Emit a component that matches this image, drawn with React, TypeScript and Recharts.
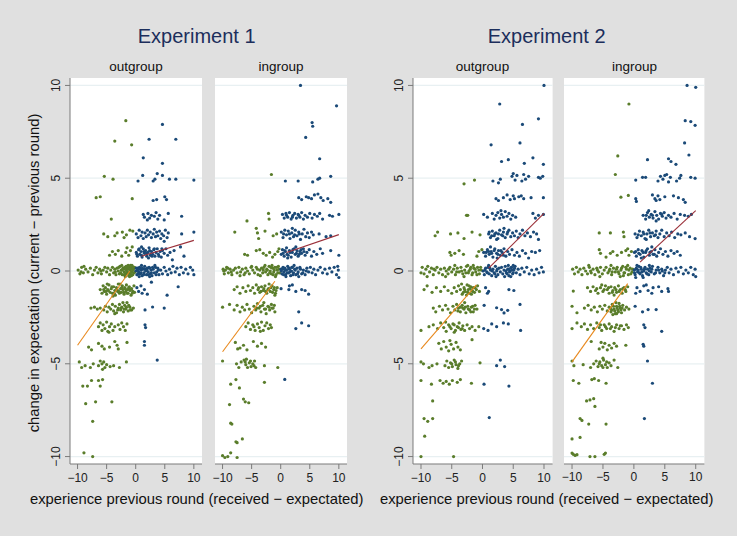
import React from 'react';
import { ScatterChart, Scatter, XAxis, YAxis, CartesianGrid } from 'recharts';

type P = [number, number];

const X_TICKS = [-10, -5, 0, 5, 10];
const Y_TICKS = [-10, -5, 0, 5, 10];
const X_DOMAIN: [number, number] = [-11.3, 11.4];
const Y_DOMAIN: [number, number] = [-10.4, 10.4];

const experimentTitles = ['Experiment 1', 'Experiment 2'];
const groupTitles = ['outgroup', 'ingroup'];
const xTitle = 'experience previous round (received \u2212 expectated)';
const yTitle = 'change in expectation (current \u2212 previous round)';

// ---------- Experiment 1, outgroup ----------
const e1OutNeg: P[] = [
  [-1.7, 8.1], [-3.6, 7.0], [-0.7, 6.8], [-5.4, 5.1], [-3.9, 4.95], [-6.8, 3.95], [-6.1, 4.0], [-0.6, 3.9], [-4.2, 2.8],
  [-5.5, 2.0], [-4.8, 1.85], [-3.6, 1.9], [-3.2, 2.05], [-2.3, 2.1], [-1.6, 1.95], [-1.0, 2.2], [-0.5, 2.15], [-2.0, 1.8],
  [-4.5, 0.85], [-4.0, 1.05], [-3.5, 0.9], [-3.0, 1.1], [-2.4, 0.8], [-1.7, 1.0], [-1.5, 1.25], [-1.2, 0.85], [-0.9, 1.1], [-0.6, 1.3],
  [-9.9, 0.05], [-9.6, -0.15], [-9.3, 0.2], [-9.0, -0.1], [-8.6, 0.1], [-8.2, -0.05], [-7.8, 0.15], [-7.4, -0.2], [-7.1, 0.05],
  [-6.8, 0.2], [-6.5, -0.1], [-6.2, 0.1], [-5.9, -0.15], [-5.6, 0.05], [-5.3, 0.2], [-5.0, -0.05], [-4.8, 0.15], [-4.5, -0.2],
  [-4.3, 0.05], [-4.0, 0.2], [-3.8, -0.1], [-3.6, 0.1], [-3.4, -0.2], [-3.2, 0.15], [-3.0, 0.0], [-2.8, -0.15], [-2.7, 0.25],
  [-2.5, 0.05], [-2.3, -0.2], [-2.2, 0.15], [-2.0, -0.05], [-1.9, 0.2], [-1.7, -0.15], [-1.6, 0.05], [-1.5, 0.25], [-1.4, -0.1],
  [-1.3, 0.1], [-1.2, -0.25], [-1.1, 0.2], [-1.0, 0.0], [-0.9, -0.15], [-0.8, 0.15], [-0.7, -0.05], [-0.6, 0.25], [-0.5, -0.2],
  [-0.4, 0.1], [-0.3, -0.1], [-0.2, 0.2], [-2.4, 0.3], [-1.8, -0.3], [-1.3, 0.3], [-0.9, 0.3], [-2.9, 0.2], [-3.5, -0.05],
  [-6.1, -1.0], [-5.8, -1.2], [-5.6, -0.8], [-5.4, -1.1], [-5.2, -0.9], [-5.0, -1.25], [-4.8, -1.0], [-4.6, -0.75], [-4.4, -1.15],
  [-4.2, -0.95], [-4.0, -1.2], [-3.8, -0.85], [-3.6, -1.05], [-3.5, -1.3], [-3.3, -0.9], [-3.1, -1.1], [-3.0, -0.7], [-2.8, -1.2],
  [-2.6, -0.95], [-2.5, -1.15], [-2.3, -0.8], [-2.2, -1.0], [-2.0, -1.25], [-1.9, -0.9], [-1.7, -1.1], [-1.6, -0.75], [-1.4, -1.0],
  [-1.3, -1.2], [-1.1, -0.85], [-1.0, -1.05], [-0.8, -1.3], [-0.7, -0.95], [-0.5, -1.1], [-0.3, -0.8], [-0.2, -1.15], [-4.9, -0.7],
  [-3.9, -1.35], [-2.7, -0.7],
  [-7.7, -2.0], [-7.1, -1.95], [-6.6, -2.05], [-6.1, -2.0], [-5.5, -2.1], [-5.2, -1.9], [-4.9, -2.2], [-4.6, -1.95], [-4.3, -2.05],
  [-4.0, -1.8], [-3.8, -2.15], [-3.5, -1.9], [-3.3, -2.25], [-3.0, -2.0], [-2.8, -1.8], [-2.6, -2.1], [-2.4, -1.95], [-2.1, -2.2],
  [-1.9, -1.85], [-1.7, -2.05], [-1.5, -1.7], [-1.3, -2.15], [-1.0, -1.95], [-0.7, -2.1], [-0.4, -2.0], [-2.2, -1.7], [-3.6, -2.3],
  [-6.4, -3.0], [-6.1, -2.8], [-5.8, -3.2], [-5.6, -2.9], [-5.3, -3.1], [-5.0, -2.75], [-4.8, -3.25], [-4.5, -3.0], [-4.2, -2.85],
  [-3.9, -3.2], [-3.6, -3.0], [-3.0, -2.9], [-2.7, -3.15], [-2.4, -2.8], [-2.1, -3.0], [-1.8, -3.2], [-1.5, -2.85], [-4.6, -3.3],
  [-8.1, -4.1], [-7.6, -4.25], [-6.4, -3.9], [-5.8, -4.05], [-5.4, -4.2], [-4.5, -4.1], [-3.6, -3.8], [-3.2, -4.0], [-3.0, -4.2], [-1.5, -3.85],
  [-9.7, -4.9], [-9.3, -5.2], [-8.7, -5.1], [-7.8, -5.2], [-7.3, -5.0], [-6.4, -5.1], [-6.1, -4.85], [-5.8, -5.0], [-5.5, -4.9],
  [-5.3, -5.2], [-5.0, -5.05], [-4.4, -5.15], [-3.8, -5.1], [-2.8, -5.2], [-1.6, -4.9], [-5.7, -5.3],
  [-9.1, -6.2], [-8.3, -6.2], [-7.6, -5.9], [-6.4, -5.9], [-5.7, -5.85], [-6.1, -6.2],
  [-8.6, -7.15], [-6.9, -7.05], [-4.1, -7.05], [-7.4, -8.1], [-8.9, -9.8], [-7.4, -10.0],
];
const e1OutNegDense: P[] = [
  [-2.6, -0.1], [-2.1, 0.1], [-1.95, -0.2], [-1.75, 0.15], [-1.55, -0.05], [-1.35, 0.2], [-1.15, -0.1], [-0.95, 0.1],
  [-0.75, -0.25], [-0.55, 0.05], [-0.35, 0.2], [-0.15, -0.05], [-1.65, 0.25], [-1.05, -0.3], [-0.65, 0.3], [-2.35, 0.05],
  [-8.9, 0.25], [-9.4, -0.05], [-6.0, 0.0],
  [-4.7, -1.05], [-4.1, -0.85], [-3.7, -1.2], [-3.2, -1.0], [-2.9, -1.1], [-2.4, -0.9], [-2.1, -1.15], [-1.8, -0.95],
  [-1.5, -1.2], [-1.2, -0.9], [-0.9, -1.0], [-0.6, -1.2], [-5.5, -1.0], [-5.1, -1.1],
  [-2.5, -2.0], [-2.0, -2.05], [-1.6, -1.95], [-1.2, -1.85], [-0.9, -2.1], [-3.1, -2.1],
];
const e1OutPos: P[] = [
  [4.6, 7.9], [2.3, 7.1], [6.9, 7.1], [1.3, 6.1], [4.6, 5.8], [1.2, 5.15], [0.4, 4.85], [3.0, 4.85], [3.3, 4.95], [3.7, 5.25],
  [4.6, 5.15], [5.8, 4.95], [6.9, 4.95], [10.0, 4.9],
  [3.0, 3.8], [3.6, 3.85], [5.0, 4.0], [5.3, 3.85],
  [1.3, 3.05], [1.5, 2.9], [2.1, 3.1], [2.4, 2.85], [2.7, 3.0], [3.5, 3.15], [3.8, 2.8], [4.1, 3.0], [4.9, 2.75], [5.6, 3.1],
  [7.9, 2.95], [2.0, 2.75], [3.2, 2.95],
  [0.1, 2.0], [0.4, 1.8], [0.6, 2.2], [0.9, 1.9], [1.1, 2.1], [1.3, 1.75], [1.6, 2.05], [1.8, 1.85], [2.0, 2.2], [2.2, 1.95],
  [2.5, 2.1], [2.7, 1.8], [3.0, 2.0], [3.2, 2.25], [3.4, 1.85], [3.6, 2.1], [3.8, 1.9], [4.1, 2.15], [4.3, 1.75], [4.5, 2.0],
  [4.8, 1.9], [5.1, 2.2], [5.4, 1.8], [5.6, 2.05], [7.9, 2.0], [10.0, 2.1], [4.9, 1.6],
  [0.1, 1.0], [0.3, 0.8], [0.5, 1.15], [0.7, 0.9], [0.9, 1.05], [1.1, 0.75], [1.3, 1.2], [1.5, 0.95], [1.7, 1.1], [1.9, 0.8],
  [2.1, 1.0], [2.3, 1.25], [2.5, 0.85], [2.7, 1.05], [2.9, 0.9], [3.1, 1.15], [3.3, 0.8], [3.5, 1.0], [3.7, 1.2], [3.9, 0.9],
  [4.2, 1.05], [4.4, 0.75], [4.6, 1.1], [4.9, 0.95], [5.2, 1.2], [5.5, 0.85], [5.9, 1.0], [6.3, 0.6], [6.6, 1.1], [7.7, 1.3],
  [8.3, 0.8], [1.0, 1.3], [2.2, 0.7],
  [0.05, 0.0], [0.2, -0.2], [0.35, 0.15], [0.5, -0.05], [0.65, 0.2], [0.8, -0.15], [0.95, 0.05], [1.1, -0.25], [1.25, 0.1],
  [1.4, -0.1], [1.55, 0.25], [1.7, 0.0], [1.85, -0.2], [2.0, 0.15], [2.15, -0.05], [2.3, 0.2], [2.5, -0.15], [2.65, 0.05],
  [2.8, -0.25], [3.0, 0.1], [3.2, -0.1], [3.4, 0.2], [3.6, -0.05], [3.8, 0.15], [4.0, -0.2], [4.3, 0.05], [4.6, -0.15], [4.9, 0.2],
  [5.2, 0.0], [5.5, -0.2], [5.8, 0.1], [6.1, -0.1], [6.4, 0.25], [6.8, -0.05], [7.1, 0.15], [7.5, -0.2], [7.8, 0.2], [8.2, -0.1],
  [8.6, 0.1], [9.0, -0.15], [9.4, 0.2], [9.8, 0.05], [10.0, -0.2], [1.0, 0.3], [2.4, -0.3], [3.3, 0.3], [0.6, -0.3],
  [0.2, -0.9], [0.5, -1.1], [0.9, -0.8], [1.1, -1.2], [1.5, -1.0], [2.0, -1.25], [2.7, -0.6], [5.4, -1.3], [7.3, -0.85],
  [1.6, -2.1], [2.9, -1.94], [4.9, -2.0], [1.6, -2.9], [1.7, -3.05], [1.5, -3.8], [1.5, -4.0], [3.7, -4.8],
];
const e1OutPosDense: P[] = [
  [0.1, 0.15], [0.3, 0.05], [0.45, -0.15], [0.7, 0.1], [0.9, -0.1], [1.15, 0.15], [1.35, -0.2], [1.6, 0.1], [1.9, 0.05],
  [2.1, -0.2], [2.4, 0.15], [2.7, -0.1], [2.9, 0.2], [3.5, -0.2], [3.9, 0.05],
  [0.2, 0.9], [0.6, 1.2], [1.0, 0.85], [1.4, 1.05], [1.8, 0.95], [2.4, 1.1], [2.8, 0.8], [3.2, 1.2], [4.0, 0.8], [4.5, 1.2],
];
const e1OutFitNeg: P[] = [[-10, -4.0], [-1, 0.0]];
const e1OutFitPos: P[] = [[1, 0.8], [10, 1.65]];

// ---------- Experiment 1, ingroup ----------
const e1InNeg: P[] = [
  [-1.6, 5.2], [-2.1, 3.1], [-2.0, 2.8], [-5.8, 2.7], [-7.9, 2.1],
  [-4.2, 2.3], [-3.8, 1.75], [-2.7, 2.15], [-1.3, 1.9], [-0.7, 2.0], [-4.0, 2.05],
  [-6.2, 0.9], [-5.7, 0.85], [-4.2, 1.1], [-3.6, 1.15], [-3.0, 0.95], [-2.5, 0.85], [-1.9, 1.0], [-1.4, 0.75], [-0.5, 1.05],
  [-1.0, 0.9], [-0.3, 1.2],
  [-9.9, 0.1], [-9.7, -0.15], [-9.5, 0.05], [-9.3, 0.2], [-9.0, -0.1], [-8.7, 0.1], [-8.4, -0.2], [-8.1, 0.05], [-7.8, 0.15],
  [-7.5, -0.1], [-7.2, 0.2], [-6.9, -0.05], [-6.6, 0.1], [-6.3, -0.2], [-6.0, 0.15], [-5.7, 0.0], [-5.4, -0.15], [-5.1, 0.2],
  [-4.8, 0.05], [-4.5, -0.1], [-4.2, 0.2], [-3.9, -0.2], [-3.6, 0.05], [-3.3, 0.15], [-3.1, -0.1], [-2.9, 0.2], [-2.6, -0.05],
  [-2.4, 0.1], [-2.2, -0.2], [-2.0, 0.25], [-1.8, 0.0], [-1.6, -0.15], [-1.4, 0.15], [-1.2, -0.05], [-1.0, 0.2], [-0.8, -0.2],
  [-0.6, 0.05], [-0.4, 0.25], [-0.2, -0.1], [-1.5, 0.3], [-2.7, 0.3], [-3.5, -0.25], [-5.0, 0.25], [-7.0, -0.25], [-0.9, -0.3],
  [-8.0, -1.0], [-7.5, -0.85], [-7.0, -1.2], [-6.5, -0.9], [-6.0, -1.1], [-5.6, -0.8], [-5.2, -1.05], [-4.8, -0.9], [-4.5, -1.2],
  [-4.2, -0.75], [-3.9, -1.0], [-3.6, -1.15], [-3.3, -0.85], [-3.0, -1.05], [-2.7, -0.8], [-2.4, -1.2], [-2.1, -0.95], [-1.8, -1.1],
  [-1.5, -0.8], [-1.2, -1.0], [-0.9, -1.2], [-0.6, -0.9], [-2.0, -0.7], [-1.0, -1.3],
  [-10.0, -1.95], [-8.8, -1.8], [-8.0, -2.1], [-7.5, -1.85], [-7.0, -2.2], [-6.6, -1.95], [-6.2, -2.1], [-5.8, -1.8], [-5.4, -2.05],
  [-5.0, -2.25], [-4.6, -1.9], [-4.3, -2.1], [-4.0, -1.75], [-3.7, -2.0], [-3.4, -2.2], [-3.1, -1.85], [-2.8, -2.05], [-2.5, -2.3],
  [-2.2, -1.9], [-1.9, -2.1], [-1.6, -1.8], [-1.3, -2.0], [-1.0, -2.2], [-2.9, -1.7],
  [-6.0, -3.0], [-5.6, -2.8], [-5.2, -3.15], [-4.8, -2.9], [-4.4, -3.2], [-4.0, -2.85], [-3.7, -3.05], [-3.3, -2.75], [-3.0, -3.2],
  [-2.7, -2.95], [-2.4, -2.8], [-2.1, -3.1], [-1.8, -2.9], [-1.6, -3.05], [-4.6, -3.0], [-3.5, -3.25],
  [-7.8, -3.85], [-7.4, -4.2], [-7.0, -4.15], [-6.4, -4.0], [-5.8, -4.25], [-4.7, -3.8], [-4.0, -4.05], [-3.3, -3.9], [-2.6, -4.1],
  [-10.0, -4.85], [-7.6, -5.0], [-7.2, -5.2], [-6.8, -4.9], [-6.3, -4.8], [-6.0, -5.05], [-5.7, -5.2], [-5.4, -4.95], [-5.1, -5.15],
  [-4.8, -5.0], [-4.5, -4.85], [-4.3, -5.2], [-2.8, -5.1], [-0.5, -5.2], [-5.9, -4.75],
  [-8.6, -6.1], [-7.7, -5.85], [-7.1, -6.3], [-2.8, -6.0],
  [-6.4, -6.9], [-6.1, -7.05], [-5.5, -7.1], [-8.8, -7.2], [-8.6, -8.2], [-8.4, -8.25], [-7.7, -9.2], [-7.5, -9.25], [-6.6, -9.05],
  [-10.0, -9.95], [-9.6, -10.05], [-9.1, -10.0], [-8.6, -9.8], [-7.5, -10.05],
];
const e1InNegDense: P[] = [
  [-9.8, 0.0], [-9.1, 0.15], [-8.5, -0.05], [-2.3, 0.05], [-1.9, -0.1], [-1.7, 0.2], [-1.3, -0.2], [-1.1, 0.05], [-0.7, 0.2],
  [-0.5, -0.1], [-0.3, 0.1], [-3.0, 0.05], [-4.0, 0.1], [-6.1, -0.1],
  [-3.8, -0.9], [-3.4, -1.1], [-2.9, -0.95], [-2.6, -1.1], [-2.2, -1.0], [-1.7, -0.9], [-1.4, -1.15], [-1.1, -0.9], [-0.8, -1.05],
  [-4.1, -2.0], [-3.5, -1.9], [-2.6, -2.05], [-2.0, -1.95], [-1.5, -2.0], [-1.1, -1.85],
  [-6.1, -4.9], [-5.2, -4.85], [-4.6, -5.1],
];
const e1InPos: P[] = [
  [3.4, 10.0], [9.6, 8.9], [5.4, 8.0], [5.5, 7.8], [4.3, 7.2], [6.7, 6.05], [8.6, 5.1], [6.4, 4.95], [6.7, 5.0], [5.5, 4.8],
  [3.0, 4.85], [0.8, 4.85],
  [3.1, 3.95], [3.6, 3.85], [4.4, 4.0], [5.3, 3.9], [5.8, 4.1], [6.4, 4.15], [6.9, 3.95], [7.3, 3.8], [8.1, 3.9], [8.6, 3.7], [4.8, 3.95],
  [0.3, 3.05], [0.6, 2.85], [0.9, 3.1], [1.2, 2.9], [1.5, 3.15], [1.8, 2.8], [2.1, 3.0], [2.4, 3.1], [2.7, 2.85], [3.0, 3.05],
  [3.3, 2.9], [3.6, 3.15], [3.9, 2.8], [4.2, 3.0], [4.6, 2.9], [5.0, 3.1], [5.4, 2.85], [5.8, 3.05], [6.3, 2.95], [6.7, 3.1],
  [7.2, 2.8], [8.4, 3.0], [8.9, 2.95], [10.0, 3.05],
  [0.1, 2.1], [0.4, 1.8], [0.7, 2.2], [1.0, 1.95], [1.3, 2.15], [1.6, 1.75], [1.9, 2.05], [2.2, 1.85], [2.5, 2.2], [2.8, 1.9],
  [3.1, 2.1], [3.4, 1.7], [3.7, 2.0], [4.0, 2.25], [4.3, 1.85], [4.6, 2.05], [4.9, 1.8], [5.3, 2.1], [5.6, 1.95], [6.6, 2.0],
  [7.8, 1.85], [2.0, 2.3], [8.6, 1.9],
  [0.1, 0.9], [0.3, 1.15], [0.6, 0.8], [0.8, 1.05], [1.0, 1.25], [1.3, 0.85], [1.5, 1.1], [1.8, 0.75], [2.0, 1.0], [2.3, 1.2],
  [2.5, 0.9], [2.8, 1.1], [3.0, 0.8], [3.3, 1.05], [3.6, 0.95], [3.9, 1.2], [4.2, 0.85], [4.5, 1.0], [4.9, 1.15], [5.3, 0.8],
  [5.7, 1.05], [6.2, 0.9], [6.8, 1.2], [7.2, 0.95], [8.6, 1.1], [10.0, 0.85], [1.2, 0.7], [2.6, 1.3],
  [0.05, 0.1], [0.2, -0.15], [0.4, 0.2], [0.55, -0.05], [0.7, 0.15], [0.85, -0.2], [1.0, 0.05], [1.2, 0.25], [1.35, -0.1],
  [1.5, 0.1], [1.7, -0.25], [1.85, 0.0], [2.0, 0.2], [2.2, -0.1], [2.4, 0.1], [2.6, -0.2], [2.8, 0.15], [3.0, -0.05], [3.3, 0.2],
  [3.6, -0.15], [3.9, 0.05], [4.2, -0.2], [4.5, 0.15], [4.8, -0.05], [5.1, 0.2], [5.4, -0.1], [5.7, 0.1], [6.0, -0.2], [6.4, 0.05],
  [6.8, 0.2], [7.2, -0.1], [7.6, 0.1], [8.0, -0.15], [8.4, 0.15], [8.8, -0.05], [9.2, 0.2], [9.6, -0.2], [9.9, 0.05], [10.0, -0.35],
  [9.8, 0.25], [0.9, -0.3], [2.3, 0.3], [3.1, -0.3],
  [0.06, -0.95], [1.4, -1.0], [1.5, -0.8], [2.0, -0.75], [2.6, -1.1], [3.6, -1.0], [4.2, -1.05], [4.8, -1.25],
  [3.1, -2.2], [2.6, -3.1], [3.6, -2.8], [4.8, -2.95], [0.7, -5.84],
];
const e1InPosDense: P[] = [
  [0.1, 0.0], [0.3, 0.1], [0.5, -0.2], [0.8, 0.05], [1.1, -0.1], [1.4, 0.15], [1.6, -0.05], [1.9, 0.2], [2.1, -0.2], [2.5, 0.05],
  [2.9, -0.15], [3.4, 0.1], [3.8, -0.1], [4.4, 0.0],
  [0.4, 0.95], [0.7, 1.1], [1.1, 0.9], [1.6, 1.0], [2.1, 1.15], [2.7, 0.95], [3.2, 0.9], [3.5, 1.15], [4.0, 1.05],
  [0.5, 2.0], [1.5, 2.0], [2.4, 1.95], [3.2, 2.0], [1.0, 3.0], [2.0, 2.9], [3.1, 3.0],
];
const e1InFitNeg: P[] = [[-10, -4.35], [-1, -0.55]];
const e1InFitPos: P[] = [[1, 1.0], [10, 1.96]];

// ---------- Experiment 2, outgroup ----------
const e2OutNeg: P[] = [
  [-3.0, 4.7], [-1.3, 4.9], [-2.6, 3.0], [-2.4, 3.0],
  [-7.7, 1.9], [-7.3, 2.1], [-5.2, 2.0], [-4.0, 2.05], [-3.0, 1.75], [-1.7, 2.1], [-0.4, 1.95],
  [-5.3, 1.0], [-5.1, 0.85], [-4.5, 0.95], [-3.8, 1.1], [-3.1, 0.9], [-0.9, 0.8], [-0.6, 1.05], [-0.1, 1.15],
  [-10.0, -0.1], [-9.8, 0.2], [-9.5, -0.15], [-9.2, 0.1], [-8.9, 0.25], [-8.6, -0.05], [-8.3, 0.15], [-8.0, -0.2], [-7.7, 0.05],
  [-7.4, 0.2], [-7.1, -0.1], [-6.8, 0.1], [-6.5, -0.2], [-6.2, 0.15], [-5.9, 0.0], [-5.6, -0.15], [-5.3, 0.2], [-5.0, -0.05],
  [-4.7, 0.1], [-4.4, -0.2], [-4.1, 0.15], [-3.8, -0.05], [-3.5, 0.2], [-3.2, -0.15], [-2.9, 0.05], [-2.6, 0.25], [-2.3, -0.1],
  [-2.0, 0.1], [-1.7, -0.2], [-1.4, 0.15], [-1.1, -0.05], [-0.8, 0.2], [-0.5, -0.15], [-0.2, 0.05], [-4.5, 0.3], [-3.0, -0.3],
  [-6.0, -0.3], [-1.5, 0.3], [-9.0, -0.3], [-2.4, 0.3],
  [-9.5, -1.0], [-9.0, -0.8], [-8.2, -1.15], [-7.5, -0.9], [-6.8, -1.1], [-6.2, -0.85], [-5.6, -1.05], [-5.0, -1.2], [-4.6, -0.9],
  [-4.2, -1.1], [-3.9, -0.8], [-3.6, -1.0], [-3.3, -1.25], [-3.0, -0.9], [-2.8, -1.1], [-2.5, -0.75], [-2.3, -1.0], [-2.1, -1.2],
  [-1.9, -0.85], [-1.7, -1.05], [-1.5, -0.9], [-1.3, -1.15], [-1.0, -1.0], [-0.8, -0.8], [-0.5, -1.1], [-2.6, -1.3], [-3.4, -0.7],
  [-8.0, -2.0], [-7.6, -2.2], [-7.0, -1.9], [-6.5, -2.1], [-6.0, -1.85], [-5.6, -2.05], [-5.2, -2.25], [-4.8, -1.9], [-4.5, -2.1],
  [-4.2, -1.8], [-3.9, -2.0], [-3.6, -2.2], [-3.3, -1.85], [-3.0, -2.05], [-2.7, -2.25], [-2.4, -1.9], [-2.1, -2.1], [-1.8, -1.95],
  [-1.5, -2.2], [-1.2, -1.85], [-0.9, -2.05], [-2.9, -1.7],
  [-10.0, -3.2], [-8.7, -3.0], [-8.0, -2.9], [-7.3, -3.1], [-6.8, -2.8], [-6.3, -3.05], [-5.9, -3.25], [-5.5, -2.9], [-5.1, -3.1],
  [-4.8, -2.85], [-4.4, -3.2], [-4.1, -3.0], [-3.8, -2.8], [-3.5, -3.15], [-3.2, -2.95], [-2.9, -3.2], [-2.5, -2.9], [-2.1, -3.1],
  [-1.7, -3.0], [-1.2, -3.2], [-0.6, -3.0], [-4.6, -3.3], [-6.0, -2.75],
  [-7.1, -3.9], [-6.7, -4.2], [-6.3, -3.8], [-5.9, -4.1], [-5.5, -4.3], [-5.1, -3.95], [-4.7, -4.2], [-4.3, -3.85], [-4.0, -4.1],
  [-3.6, -4.25], [-1.7, -3.7], [-5.3, -3.75],
  [-10.0, -4.9], [-9.6, -5.0], [-8.7, -5.2], [-8.2, -5.1], [-7.4, -5.0], [-6.1, -5.1], [-5.8, -4.85], [-5.5, -5.2], [-5.2, -4.95],
  [-4.9, -5.15], [-4.6, -4.8], [-4.3, -5.05], [-4.0, -5.25], [-3.7, -5.0], [-3.4, -4.85], [-0.4, -4.95],
  [-10.0, -5.9], [-8.3, -6.1], [-6.9, -5.9], [-6.4, -6.05], [-5.9, -5.95], [-5.4, -6.1], [-4.9, -5.9], [-4.1, -6.0], [-3.6, -5.85],
  [-1.8, -6.05],
  [-8.1, -7.0], [-9.5, -7.95], [-8.9, -8.1], [-8.1, -7.95], [-9.4, -8.9], [-10.0, -10.0], [-4.7, -10.0],
];
const e2OutNegDense: P[] = [
  [-2.2, 0.0], [-1.9, 0.2], [-1.6, -0.1], [-1.2, 0.1], [-0.9, -0.2], [-0.6, 0.05], [-0.3, 0.2], [-2.7, -0.1], [-3.4, 0.0],
  [-4.2, -0.05], [-5.5, 0.1], [-7.9, 0.1],
  [-2.9, -1.0], [-2.4, -1.15], [-2.0, -0.95], [-1.6, -1.1], [-1.2, -0.9], [-1.8, -1.25], [-3.1, -1.15], [-2.2, -0.8],
  [-3.2, -2.0], [-2.8, -1.95], [-2.3, -2.05], [-1.9, -2.2], [-1.6, -1.9], [-1.3, -2.05], [-4.0, -2.15], [-3.6, -1.95],
  [-4.6, -2.9], [-3.9, -3.05], [-3.3, -3.1], [-5.3, -3.0],
  [-5.0, -5.0], [-4.4, -4.9], [-3.9, -5.1],
];
const e2OutPos: P[] = [
  [10.0, 10.0], [2.8, 9.0], [6.5, 7.9], [9.1, 8.2], [1.4, 6.8], [6.1, 6.9], [3.1, 5.9], [4.2, 6.0], [6.8, 5.8], [8.2, 6.1], [9.9, 5.75],
  [1.7, 4.85], [2.9, 4.95], [4.8, 5.1], [5.0, 5.25], [5.3, 4.9], [5.6, 5.15], [6.4, 4.85], [6.7, 5.2], [7.0, 4.95], [7.5, 5.1],
  [9.1, 5.05], [9.4, 5.0], [9.8, 5.1], [2.6, 4.75],
  [2.2, 3.9], [2.6, 3.8], [3.4, 3.95], [4.0, 4.1], [4.5, 3.85], [5.0, 4.05], [5.2, 3.9], [5.9, 4.0], [6.3, 4.05], [6.7, 3.9],
  [7.9, 3.95], [9.9, 3.95],
  [0.2, 3.05], [0.8, 2.9], [1.6, 3.1], [1.9, 2.8], [2.2, 3.0], [2.5, 3.15], [2.8, 2.85], [3.1, 3.05], [3.4, 2.9], [3.7, 3.2],
  [4.0, 2.95], [4.3, 3.1], [4.6, 2.8], [4.9, 3.0], [5.4, 2.9], [8.2, 3.1], [8.6, 2.85], [9.1, 3.0], [9.9, 3.05], [3.0, 3.25],
  [1.0, 2.0], [1.3, 1.8], [1.6, 2.15], [1.9, 1.9], [2.2, 2.05], [2.5, 1.75], [2.8, 2.2], [3.1, 1.95], [3.4, 2.1], [3.7, 1.8],
  [4.0, 2.0], [4.3, 2.2], [4.6, 1.85], [4.9, 2.05], [5.2, 1.9], [5.5, 2.15], [5.8, 1.8], [6.1, 2.0], [6.5, 2.2], [6.9, 1.9],
  [7.3, 2.05], [7.8, 1.85], [8.3, 2.1], [8.8, 2.0], [9.1, 1.7], [3.5, 2.3], [2.3, 1.7],
  [0.2, 1.0], [0.5, 0.8], [0.8, 1.15], [1.1, 0.9], [1.4, 1.05], [1.7, 0.75], [2.0, 1.2], [2.3, 0.95], [2.6, 1.1], [2.9, 0.85],
  [3.2, 1.0], [3.5, 1.2], [3.8, 0.8], [4.1, 1.05], [4.4, 0.9], [4.8, 1.15], [5.2, 0.85], [5.6, 1.0], [6.0, 0.8], [6.5, 1.1],
  [7.0, 0.95], [7.5, 0.7], [8.0, 1.05], [8.6, 1.0], [9.3, 1.1], [1.3, 1.3], [2.4, 0.7],
  [0.1, 0.0], [0.3, -0.2], [0.5, 0.15], [0.7, -0.05], [0.9, 0.2], [1.1, -0.15], [1.3, 0.05], [1.5, -0.25], [1.7, 0.1], [1.9, -0.1],
  [2.1, 0.25], [2.3, 0.0], [2.5, -0.2], [2.7, 0.15], [2.9, -0.05], [3.1, 0.2], [3.3, -0.15], [3.5, 0.05], [3.7, 0.25], [3.9, -0.1],
  [4.1, 0.1], [4.3, -0.25], [4.5, 0.0], [4.7, 0.2], [4.9, -0.15], [5.1, 0.05], [5.3, 0.25], [5.5, -0.1], [5.8, 0.1], [6.1, -0.2],
  [6.4, 0.15], [6.8, -0.05], [7.2, 0.2], [7.6, -0.15], [8.0, 0.05], [8.4, -0.2], [8.8, 0.1], [9.2, -0.1], [9.6, 0.2], [9.9, -0.05],
  [4.2, 0.3], [4.6, -0.3], [5.0, 0.3], [3.6, -0.3], [1.0, 0.3], [2.2, -0.3],
  [0.5, -0.9], [1.0, -1.1], [4.3, -1.0], [5.1, -1.05], [0.8, -1.2],
  [0.27, -1.85], [2.3, -1.98], [3.1, -2.08], [3.5, -2.26], [4.1, -2.12], [6.1, -1.8],
  [0.2, -3.1], [0.9, -3.2], [1.5, -2.85], [2.3, -3.0], [3.4, -2.8], [4.2, -2.85], [6.2, -3.2],
  [2.3, -5.1], [2.9, -4.8], [3.6, -5.15], [0.25, -6.1], [4.3, -6.2], [1.1, -7.9],
];
const e2OutPosDense: P[] = [
  [3.8, 0.0], [4.0, -0.15], [4.2, 0.1], [4.4, -0.05], [4.6, 0.15], [4.8, 0.05], [5.0, -0.1], [5.2, 0.15], [0.4, 0.05],
  [0.8, -0.1], [1.2, 0.15], [1.6, 0.0], [2.0, -0.15], [2.4, 0.1],
  [0.6, 1.0], [1.0, 1.05], [1.5, 0.95], [1.9, 1.1], [2.5, 0.9], [3.0, 1.1], [3.4, 0.85],
  [1.1, 2.1], [1.5, 1.9], [2.0, 2.0], [2.6, 2.0], [3.3, 1.9], [4.1, 2.1],
];
const e2OutFitNeg: P[] = [[-10, -4.2], [-1, -0.75]];
const e2OutFitPos: P[] = [[1, 0.15], [10, 3.1]];

// ---------- Experiment 2, ingroup ----------
const e2InNeg: P[] = [
  [-0.8, 9.0], [-2.6, 6.2], [-3.0, 5.2], [-2.1, 3.98], [-0.9, 4.07],
  [-5.6, 2.05], [-3.8, 2.05], [-1.7, 2.1], [-1.6, 1.85],
  [-5.6, 1.15], [-5.4, 0.95], [-4.5, 0.75], [-3.8, 0.95], [-3.4, 1.05], [-2.7, 0.85], [-2.0, 1.0], [-1.3, 1.1], [-0.8, 0.85],
  [-0.4, 1.05], [-1.0, 1.2],
  [-9.9, 0.1], [-9.6, -0.15], [-9.3, 0.2], [-9.0, -0.05], [-8.7, 0.1], [-8.4, -0.2], [-8.1, 0.15], [-7.8, 0.0], [-7.5, -0.15],
  [-7.2, 0.2], [-6.9, -0.1], [-6.6, 0.1], [-6.3, -0.2], [-6.0, 0.15], [-5.7, -0.05], [-5.4, 0.2], [-5.1, -0.15], [-4.8, 0.05],
  [-4.5, 0.2], [-4.2, -0.1], [-3.9, 0.1], [-3.6, -0.2], [-3.3, 0.15], [-3.0, -0.05], [-2.7, 0.2], [-2.4, -0.15], [-2.1, 0.05],
  [-1.8, 0.25], [-1.5, -0.1], [-1.2, 0.1], [-0.9, -0.2], [-0.6, 0.15], [-0.3, -0.05], [-1.0, 0.3], [-2.2, -0.3], [-3.7, 0.3],
  [-5.5, -0.3], [-7.3, 0.3], [-1.7, -0.25],
  [-9.8, -1.08], [-7.5, -0.9], [-7.0, -1.1], [-6.6, -0.85], [-6.2, -1.05], [-5.8, -1.2], [-5.4, -0.9], [-5.0, -1.1], [-4.6, -0.8],
  [-4.3, -1.0], [-4.0, -1.2], [-3.7, -0.85], [-3.4, -1.05], [-3.1, -0.9], [-2.8, -1.15], [-2.5, -0.8], [-2.2, -1.0], [-1.9, -1.2],
  [-1.6, -0.9], [-1.3, -1.1], [-1.0, -0.85], [-3.2, -1.3], [-5.2, -0.75],
  [-10.0, -1.9], [-9.2, -2.25], [-8.0, -2.0], [-7.4, -1.85], [-6.9, -2.1], [-6.4, -1.95], [-5.9, -2.2], [-5.5, -1.9], [-5.1, -2.05],
  [-4.7, -1.85], [-4.3, -2.15], [-4.0, -1.95], [-3.7, -2.2], [-3.5, -1.8], [-3.2, -2.05], [-3.0, -2.3], [-2.8, -1.9], [-2.6, -2.1],
  [-2.4, -1.75], [-2.2, -2.0], [-2.0, -2.25], [-1.8, -1.85], [-1.5, -2.1], [-1.2, -1.95], [-0.8, -2.05], [-2.9, -1.7], [-3.4, -2.35],
  [-10.0, -3.1], [-9.2, -2.8], [-8.5, -3.0], [-8.0, -2.85], [-7.5, -3.15], [-7.0, -2.9], [-6.5, -3.1], [-6.0, -2.8], [-5.6, -3.05],
  [-5.2, -3.2], [-4.8, -2.9], [-4.4, -3.1], [-4.0, -2.85], [-3.6, -3.0], [-3.2, -3.25], [-2.8, -2.9], [-2.4, -3.1], [-2.0, -2.95],
  [-1.6, -3.15], [-1.2, -2.9], [-0.9, -3.05],
  [-6.9, -3.8], [-5.6, -4.2], [-5.3, -3.85], [-5.0, -4.1], [-4.7, -3.9], [-4.3, -4.25], [-4.0, -4.0], [-3.6, -4.15], [-3.2, -3.9],
  [-2.8, -4.05], [-1.3, -4.0],
  [-10.0, -4.85], [-9.7, -5.1], [-8.2, -5.05], [-7.0, -5.2], [-6.5, -5.0], [-6.1, -4.85], [-5.8, -5.15], [-5.5, -4.9], [-5.2, -5.1],
  [-4.9, -4.8], [-4.6, -5.05], [-4.3, -5.2], [-4.0, -4.95], [-3.7, -5.1], [-5.0, -4.7], [-3.2, -4.8], [-2.6, -5.2],
  [-9.8, -5.9], [-8.9, -6.05], [-6.8, -5.85], [-6.4, -5.8], [-5.7, -5.9], [-4.5, -6.05],
  [-7.65, -7.0], [-7.1, -6.95], [-6.5, -6.88], [-6.3, -7.3],
  [-8.7, -7.95], [-8.4, -8.05], [-7.3, -8.25], [-4.5, -8.25],
  [-10.0, -9.05], [-8.7, -8.97],
  [-10.0, -9.81], [-9.8, -9.88], [-9.5, -9.94], [-9.2, -9.9], [-7.1, -10.0], [-6.3, -10.0], [-4.8, -9.88], [-4.6, -9.81],
];
const e2InNegDense: P[] = [
  [-4.0, 0.0], [-3.5, -0.05], [-2.8, 0.1], [-2.5, -0.05], [-2.0, 0.15], [-1.6, -0.1], [-1.3, 0.2], [-0.8, 0.05], [-0.5, -0.15],
  [-0.2, 0.1], [-5.9, 0.05], [-7.0, 0.0],
  [-4.8, -1.0], [-4.1, -0.9], [-3.5, -1.15], [-2.9, -1.0], [-2.4, -1.1], [-1.8, -0.95], [-1.4, -1.0], [-6.0, -0.95],
  [-3.8, -2.0], [-3.3, -1.9], [-3.1, -2.15], [-2.7, -2.0], [-2.5, -2.2], [-2.3, -1.9], [-2.1, -2.1], [-1.9, -2.0], [-3.6, -2.1],
  [-2.8, -2.3],
  [-4.6, -3.0], [-3.8, -3.1], [-3.0, -3.05], [-2.2, -2.95], [-5.4, -2.9],
  [-5.6, -5.0], [-5.0, -5.2], [-4.4, -4.9],
];
const e2InPos: P[] = [
  [8.6, 10.0], [10.0, 9.9], [8.3, 8.1], [9.2, 8.05], [9.9, 7.85], [8.2, 6.9], [8.9, 6.25], [2.2, 6.0], [5.6, 6.05], [6.0, 5.9],
  [6.8, 5.75], [8.3, 3.7],
  [0.3, 4.9], [1.4, 5.05], [1.9, 5.05], [3.9, 4.85], [4.3, 5.1], [4.7, 4.95], [5.3, 5.2], [5.6, 4.8], [5.9, 5.05], [6.9, 4.85],
  [7.4, 5.0], [7.6, 5.15], [9.2, 5.05], [9.9, 5.0], [5.0, 5.15],
  [0.3, 3.9], [0.4, 3.75], [3.0, 4.1], [3.4, 3.9], [3.9, 4.05], [4.2, 3.85], [5.0, 4.0], [6.4, 4.05], [7.2, 3.95], [8.0, 3.85], [3.6, 3.8],
  [1.5, 3.0], [1.9, 2.8], [2.2, 3.15], [2.5, 2.9], [2.8, 3.05], [3.1, 2.85], [3.4, 3.2], [3.7, 3.0], [4.0, 2.8], [4.3, 3.1],
  [4.6, 2.95], [4.9, 3.15], [5.2, 2.85], [5.6, 3.0], [6.0, 2.9], [6.5, 3.1], [7.0, 2.8], [7.5, 3.05], [8.2, 3.0], [8.8, 2.95],
  [9.3, 3.05], [3.6, 2.7], [2.4, 3.25],
  [0.2, 2.0], [0.5, 1.8], [0.9, 2.15], [1.2, 1.9], [1.5, 2.1], [1.8, 1.75], [2.1, 2.0], [2.4, 2.2], [2.7, 1.85], [3.0, 2.05],
  [3.3, 1.9], [3.6, 2.15], [3.9, 1.8], [4.2, 2.0], [4.5, 2.2], [4.9, 1.85], [5.3, 2.05], [5.7, 1.9], [6.1, 2.1], [6.6, 1.8],
  [7.1, 2.0], [7.6, 1.95], [8.3, 2.05], [9.0, 1.85], [9.9, 1.75], [2.0, 1.7],
  [0.1, 1.0], [0.4, 0.8], [0.7, 1.15], [1.0, 0.9], [1.3, 1.1], [1.6, 0.75], [1.9, 1.0], [2.2, 1.2], [2.5, 0.85], [2.8, 1.05],
  [3.1, 0.9], [3.4, 1.15], [3.7, 0.8], [4.0, 1.0], [4.3, 1.2], [4.7, 0.9], [5.1, 1.05], [5.5, 0.8], [6.0, 1.1], [6.5, 0.95],
  [7.0, 1.05], [7.5, 0.85], [1.2, 0.7], [2.9, 1.3],
  [0.05, 0.05], [0.2, -0.2], [0.4, 0.15], [0.6, -0.05], [0.8, 0.25], [1.0, -0.15], [1.2, 0.1], [1.4, -0.25], [1.6, 0.0], [1.8, 0.2],
  [2.0, -0.1], [2.2, 0.1], [2.4, -0.2], [2.6, 0.15], [2.8, -0.05], [3.0, 0.25], [3.3, -0.15], [3.6, 0.05], [3.9, 0.2], [4.2, -0.1],
  [4.5, 0.1], [4.8, -0.25], [5.1, 0.05], [5.4, 0.2], [5.7, -0.1], [6.0, 0.1], [6.4, -0.2], [6.8, 0.15], [7.2, -0.05], [7.6, 0.2],
  [8.0, -0.15], [8.4, 0.05], [8.8, -0.1], [9.2, 0.2], [9.6, -0.2], [9.9, 0.1], [10.0, -0.3], [0.5, 0.3], [1.5, -0.35], [0.3, -0.35],
  [2.5, 0.3],
  [0.5, -0.9], [1.0, -1.1], [1.6, -0.8], [2.3, -1.05], [2.9, -1.2], [4.0, -0.85], [4.5, -1.1], [5.5, -0.95], [0.3, -1.2],
  [2.0, -0.75], [3.1, -0.9], [5.6, -1.1],
  [1.4, -2.2], [2.3, -2.08], [3.6, -2.08], [0.2, -1.9],
  [1.6, -2.9], [1.8, -3.05], [4.5, -3.25],
  [1.5, -3.95], [1.6, -4.05], [2.2, -4.85], [3.0, -6.05], [1.7, -7.95],
];
const e2InPosDense: P[] = [
  [0.1, -0.1], [0.3, 0.1], [0.7, 0.05], [0.9, -0.1], [1.1, 0.2], [1.3, -0.05], [1.7, 0.1], [2.1, -0.15], [2.5, 0.0], [2.9, 0.1],
  [3.5, -0.1], [4.0, 0.05], [4.6, 0.0], [5.0, -0.1],
  [0.3, 1.05], [0.8, 0.95], [1.5, 1.0], [2.0, 1.1], [2.6, 1.0], [3.3, 0.9],
  [0.7, 1.95], [1.6, 2.0], [2.6, 2.05], [3.5, 1.95], [2.0, 3.0], [3.0, 3.0], [4.5, 3.05],
];
const e2InFitNeg: P[] = [[-10, -4.9], [-1, -0.68]];
const e2InFitPos: P[] = [[1, 0.48], [10, 3.25]];

const GREEN = '#5a7d2b';
const NAVY = '#1b4a78';
const ORANGE = '#e8891e';
const MAROON = '#9b3039';
const BG = '#e0e0e0';
const AXIS = '#7a7a7a';
const FONT = '"Liberation Sans", Arial, Helvetica, sans-serif';

const fmt = (v: number) => String(v).replace('-', '\u2212');
const toPts = (arr: P[]) => arr.map(([x, y]) => ({ x, y }));

const makeDot = (color: string) => (props: any) => {
  const { cx, cy } = props;
  if (cx == null || cy == null) return <g />;
  return <circle cx={cx} cy={cy} r={1.6} fill={color} />;
};
const noDot = () => <g />;

const YTick = (props: any) => {
  const { x, y, payload } = props;
  const bx = x - 3;
  return (
    <text x={bx} y={y} transform={`rotate(-90, ${bx}, ${y})`} textAnchor="middle" fontSize={12} fill="#222" fontFamily={FONT}>
      {fmt(payload.value)}
    </text>
  );
};

const Y_AXIS_W = 45;

type PanelProps = {
  left: number;
  width: number;
  showY: boolean;
  neg: P[];
  pos: P[];
  fitNeg: P[];
  fitPos: P[];
};

function Panel({ left, width, showY, neg, pos, fitNeg, fitPos }: PanelProps) {
  return (
    <div style={{ position: 'absolute', left: left - Y_AXIS_W, top: 0 }}>
      <ScatterChart
        width={width + Y_AXIS_W + 2}
        height={536}
        margin={{ top: 78, right: 2, bottom: 0, left: showY ? 0 : Y_AXIS_W }}
      >
        <CartesianGrid vertical={false} fill="#ffffff" stroke="#e8f0f2" strokeWidth={1.2} horizontalValues={Y_TICKS} />
        <XAxis
          type="number"
          dataKey="x"
          domain={X_DOMAIN}
          ticks={X_TICKS}
          allowDataOverflow
          height={72}
          tickFormatter={fmt}
          tick={{ fontSize: 12, fill: '#222', fontFamily: FONT }}
          tickSize={5}
          tickMargin={4}
          axisLine={{ stroke: AXIS }}
          tickLine={{ stroke: AXIS }}
        />
        <YAxis
          type="number"
          dataKey="y"
          domain={Y_DOMAIN}
          ticks={Y_TICKS}
          allowDataOverflow
          width={Y_AXIS_W}
          hide={!showY}
          tick={<YTick />}
          tickSize={5}
          tickMargin={2}
          axisLine={{ stroke: AXIS }}
          tickLine={{ stroke: AXIS }}
        />
        <Scatter data={toPts(neg)} fill={GREEN} shape={makeDot(GREEN)} isAnimationActive={false} />
        <Scatter data={toPts(pos)} fill={NAVY} shape={makeDot(NAVY)} isAnimationActive={false} />
        <Scatter data={toPts(fitNeg)} line={{ stroke: ORANGE, strokeWidth: 1.1 }} shape={noDot} isAnimationActive={false} />
        <Scatter data={toPts(fitPos)} line={{ stroke: MAROON, strokeWidth: 1.1 }} shape={noDot} isAnimationActive={false} />
      </ScatterChart>
    </div>
  );
}

export default function App() {
  return (
    <div style={{ position: 'absolute', left: 0, top: 0, width: 737, height: 536, background: BG, overflow: 'hidden' }}>
      <Panel left={70} width={132} showY neg={[...e1OutNeg, ...e1OutNegDense]} pos={[...e1OutPos, ...e1OutPosDense]} fitNeg={e1OutFitNeg} fitPos={e1OutFitPos} />
      <Panel left={215} width={132} showY={false} neg={[...e1InNeg, ...e1InNegDense]} pos={[...e1InPos, ...e1InPosDense]} fitNeg={e1InFitNeg} fitPos={e1InFitPos} />
      <Panel left={412.7} width={139.6} showY neg={[...e2OutNeg, ...e2OutNegDense]} pos={[...e2OutPos, ...e2OutPosDense]} fitNeg={e2OutFitNeg} fitPos={e2OutFitPos} />
      <Panel left={564.3} width={140.4} showY={false} neg={[...e2InNeg, ...e2InNegDense]} pos={[...e2InPos, ...e2InPosDense]} fitNeg={e2InFitNeg} fitPos={e2InFitPos} />
      <svg width={737} height={536} style={{ position: 'absolute', left: 0, top: 0, pointerEvents: 'none' }}>
        <g fontFamily={FONT}>
          <text x={196.7} y={43} textAnchor="middle" fontSize={20} fill="#1c2e5c">{experimentTitles[0]}</text>
          <text x={546.7} y={43} textAnchor="middle" fontSize={20} fill="#1c2e5c">{experimentTitles[1]}</text>
          <text x={136} y={70.5} textAnchor="middle" fontSize={13.5} fill="#111">{groupTitles[0]}</text>
          <text x={281} y={70.5} textAnchor="middle" fontSize={13.5} fill="#111">{groupTitles[1]}</text>
          <text x={482.5} y={70.5} textAnchor="middle" fontSize={13.5} fill="#111">{groupTitles[0]}</text>
          <text x={634.5} y={70.5} textAnchor="middle" fontSize={13.5} fill="#111">{groupTitles[1]}</text>
          <text x={196.7} y={504} textAnchor="middle" fontSize={14.8} fill="#111">{xTitle}</text>
          <text x={546.7} y={504} textAnchor="middle" fontSize={14.8} fill="#111">{xTitle}</text>
          <text x={38.5} y={273} textAnchor="middle" fontSize={14.8} fill="#111" transform="rotate(-90, 38.5, 273)">{yTitle}</text>
        </g>
      </svg>
    </div>
  );
}
